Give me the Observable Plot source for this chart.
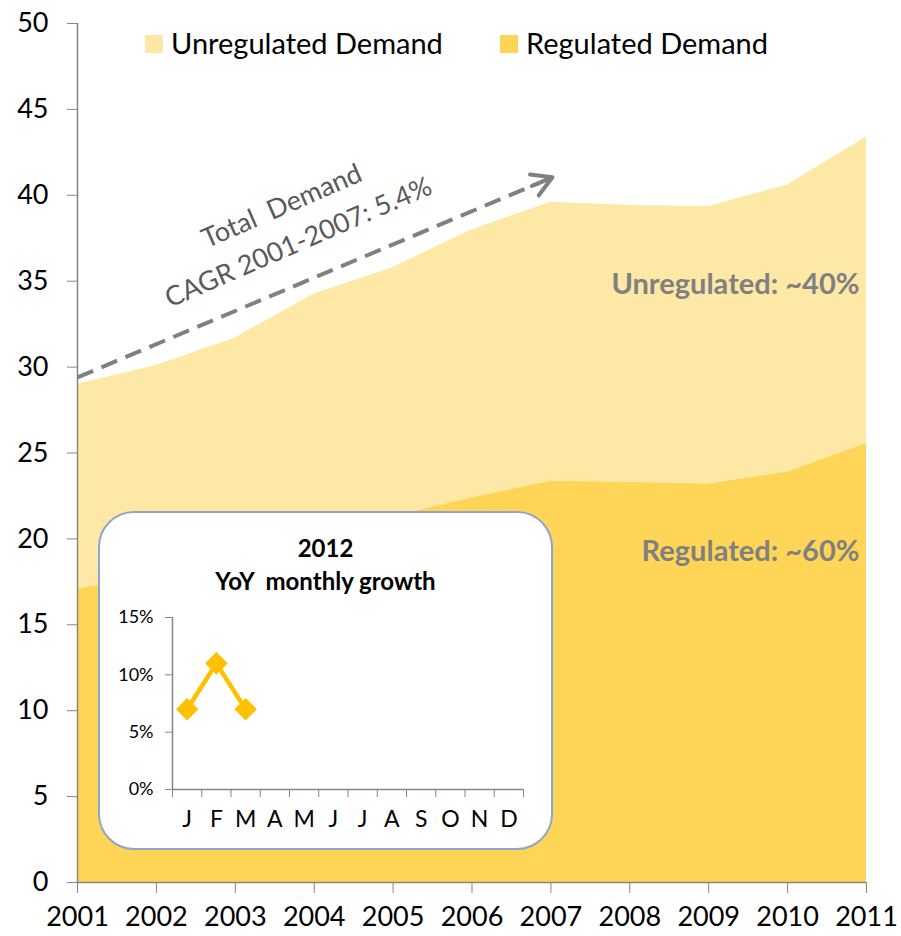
<!DOCTYPE html>
<html><head><meta charset="utf-8">
<script src="https://cdn.jsdelivr.net/npm/d3@7"></script>
<script src="https://cdn.jsdelivr.net/npm/@observablehq/plot@0.6"></script>
<style>
body{margin:0;background:#fff;font-family:Lato,"Open Sans",sans-serif;}
#wrap{position:relative;width:901px;height:936px;overflow:hidden;}
#wrap svg{position:absolute;}
.sw{position:absolute;width:18px;height:18px;}
.lt{position:absolute;font-size:29px;line-height:29px;color:#000;white-space:nowrap;}
#box{position:absolute;left:98px;top:511px;width:455px;height:339px;box-sizing:border-box;border:2px solid #8FA5CC;border-radius:36px;background:#fff;}
#ttl{position:absolute;left:0;right:0;top:18px;text-align:center;font-weight:bold;font-size:24px;line-height:33px;color:#000;white-space:pre;}
</style></head><body>
<div id="wrap"></div>
<script>
// ---- data ----
const years = [2001, 2002, 2003, 2004, 2005, 2006, 2007, 2008, 2009, 2010, 2011];
const regulated = [17.1, 17.8, 18.8, 20.2, 21.3, 22.4, 23.35, 23.3, 23.2, 23.9, 25.55];
const total = [29.0, 30.1, 31.7, 34.25, 35.8, 38.0, 39.6, 39.4, 39.35, 40.6, 43.4];
const yTicks = [0, 5, 10, 15, 20, 25, 30, 35, 40, 45, 50];
const seriesNames = ["Unregulated Demand", "Regulated Demand"];
const seriesColors = ["#FEE8A6", "#FFD557"];
const cagrText = ["Total\u00A0 Demand", "CAGR 2001-2007: 5.4%"];
const shareText = ["Unregulated: ~40%", "Regulated: ~60%"];
const months = ["J", "F", "M", "A", "M", "J", "J", "A", "S", "O", "N", "D"];
const growth = [7, 11, 7];
const insetTicks = [0, 5, 10, 15];
const insetTitle = "2012\nYoY\u00A0 monthly growth";

// ---- main chart ----
const rows = years.map((y, i) => ({year: y, reg: regulated[i], total: total[i]}));
const arrowSpec = [{x1: 2001, y1: 29.4, x2: 2007.02, y2: 41.05}];
const notes = [
  {text: cagrText[0], x: 2003.59, y: 39.35},
  {text: cagrText[1], x: 2003.8, y: 37.25}
];
const shares = [
  {text: shareText[0], y: 34.8},
  {text: shareText[1], y: 19.27}
];
const wrap = document.getElementById("wrap");

const main = Plot.plot({
  width: 901, height: 936,
  marginLeft: 77, marginRight: 35, marginTop: 23, marginBottom: 54,
  style: {fontFamily: "Lato, 'Open Sans', sans-serif", background: "transparent", color: "#000", overflow: "visible"},
  x: {domain: [2001, 2011], label: null},
  y: {domain: [0, 50], label: null},
  marks: [
    Plot.areaY(rows, {x: "year", y1: "reg", y2: "total", fill: seriesColors[0]}),
    Plot.areaY(rows, {x: "year", y: "reg", fill: seriesColors[1]}),
    Plot.ruleX([2001], {stroke: "#868686", strokeWidth: 1.5}),
    Plot.ruleY([0], {stroke: "#868686", strokeWidth: 1.5}),
    Plot.axisY({ticks: yTicks, tickSize: 10, tickPadding: 19, fontSize: 27, stroke: "#868686", fill: "#000", label: null}),
    Plot.axisX({ticks: years, tickFormat: d => String(d), tickSize: 11, tickPadding: 13, fontSize: 27, stroke: "#868686", fill: "#000", label: null}),
    Plot.link(arrowSpec, {x1: "x1", y1: "y1", x2: "x2", y2: "y2", stroke: "#808080", strokeWidth: 4, strokeDasharray: "17,9", insetEnd: 4}),
    Plot.arrow(arrowSpec, {x1: "x1", y1: "y1", x2: "x2", y2: "y2", stroke: "#808080", strokeWidth: 4, insetStart: 493, headLength: 8.5, bend: 0}),
    Plot.text(notes, {x: "x", y: "y", text: "text", rotate: -23.5, fontSize: 27, fill: "#5a5a5a"}),
    Plot.text(shares, {y: "y", text: "text", frameAnchor: "right", textAnchor: "end", dx: -7, fontSize: 29, fontWeight: "bold", fill: "#808080"})
  ]
});
main.style.left = "0px"; main.style.top = "0px";
wrap.appendChild(main);

// ---- legend ----
const legendPos = [{sx: 145, tx: 171}, {sx: 500, tx: 526}];
seriesNames.forEach((name, i) => {
  const sw = document.createElement("div");
  sw.className = "sw";
  sw.style.left = legendPos[i].sx + "px"; sw.style.top = "35px";
  sw.style.background = seriesColors[i];
  wrap.appendChild(sw);
  const t = document.createElement("div");
  t.className = "lt";
  t.style.left = legendPos[i].tx + "px"; t.style.top = "28px";
  t.textContent = name;
  wrap.appendChild(t);
});

// ---- inset ----
const box = document.createElement("div");
box.id = "box";
const ttl = document.createElement("div");
ttl.id = "ttl";
ttl.textContent = insetTitle;
box.appendChild(ttl);
wrap.appendChild(box);

const diamond = {draw(ctx, size) { const h = Math.sqrt(size / 2); ctx.moveTo(0, -h); ctx.lineTo(h, 0); ctx.lineTo(0, h); ctx.lineTo(-h, 0); ctx.closePath(); }};
const mrows = growth.map((v, i) => ({i: i + 0.5, v}));
const inset = Plot.plot({
  width: 450, height: 240,
  marginLeft: 74, marginRight: 25, marginTop: 17, marginBottom: 51,
  style: {fontFamily: "Lato, 'Open Sans', sans-serif", background: "transparent", color: "#000", overflow: "visible"},
  x: {domain: [0, 12], label: null},
  y: {domain: [0, 15], label: null},
  marks: [
    Plot.ruleX([0], {stroke: "#868686", strokeWidth: 1.5}),
    Plot.ruleY([0], {stroke: "#868686", strokeWidth: 1.5}),
    Plot.axisY({ticks: insetTicks, tickFormat: d => d + "%", tickSize: 7, tickPadding: 12, fontSize: 18, stroke: "#868686", fill: "#000", label: null}),
    Plot.axisX({ticks: d3.range(months.length + 1), tickFormat: () => "", tickSize: 8, stroke: "#868686", label: null}),
    Plot.axisX({ticks: months.map((m, i) => i + 0.5), tickFormat: d => months[Math.floor(d)], tickSize: 0, tickPadding: 21, fontSize: 23, fill: "#000", label: null}),
    Plot.line(mrows, {x: "i", y: "v", stroke: "#FFC000", strokeWidth: 4.5}),
    Plot.dot(mrows, {x: "i", y: "v", symbol: diamond, r: 9, fill: "#FFC000", stroke: "none"})
  ]
});
inset.style.left = "98px"; inset.style.top = "600px";
wrap.appendChild(inset);
</script>
</body></html>
